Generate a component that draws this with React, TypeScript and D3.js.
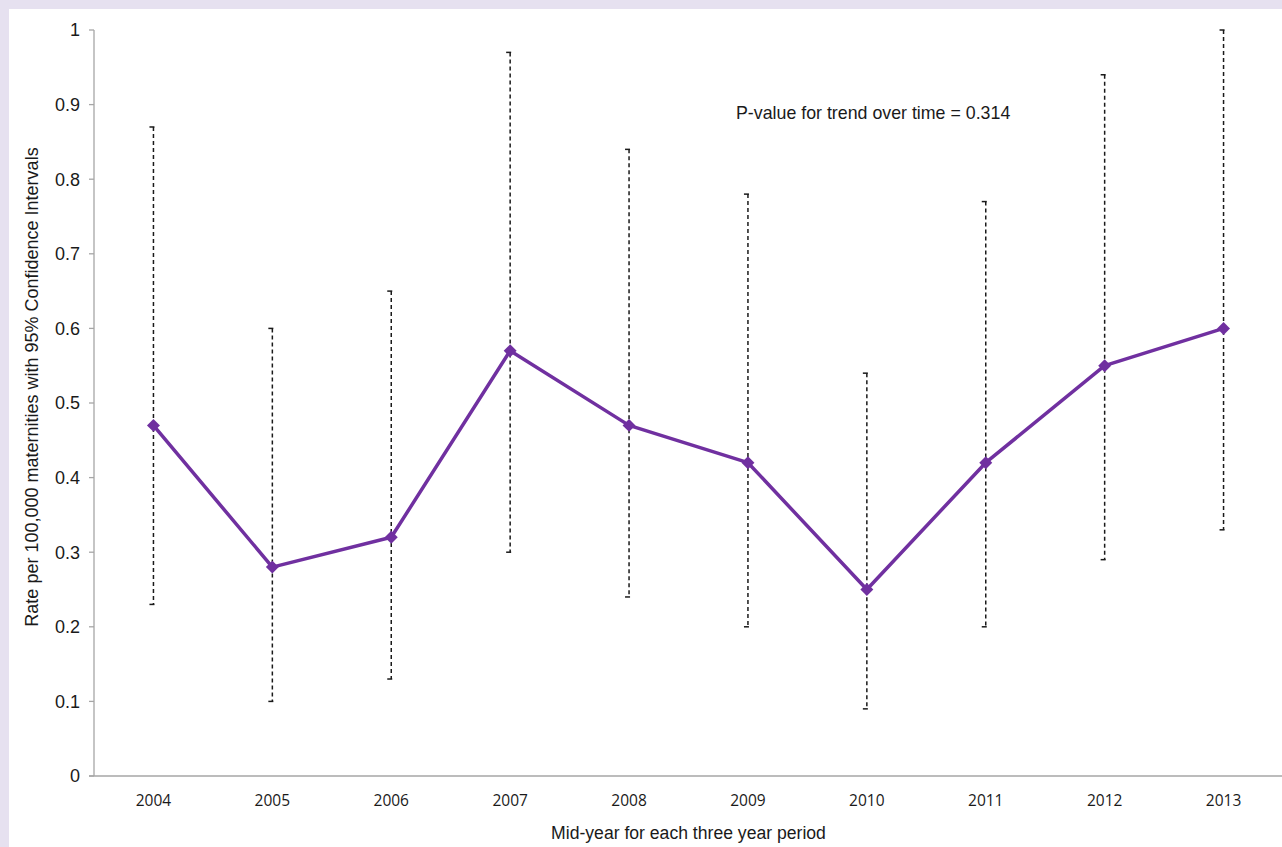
import React from "react";
import * as d3 from "d3";

const years = ["2004", "2005", "2006", "2007", "2008", "2009", "2010", "2011", "2012", "2013"];
const rates = [0.47, 0.28, 0.32, 0.57, 0.47, 0.42, 0.25, 0.42, 0.55, 0.6];
const lowerCI = [0.23, 0.1, 0.13, 0.3, 0.24, 0.2, 0.09, 0.2, 0.29, 0.33];
const upperCI = [0.87, 0.6, 0.65, 0.97, 0.84, 0.78, 0.54, 0.77, 0.94, 1.0];
const yTicks = [0, 0.1, 0.2, 0.3, 0.4, 0.5, 0.6, 0.7, 0.8, 0.9, 1];
const yTickLabels = ["0", "0.1", "0.2", "0.3", "0.4", "0.5", "0.6", "0.7", "0.8", "0.9", "1"];

const W = 1282;
const H = 847;
const left = 94;
const right = 1283;
const top = 30;
const bottom = 776;

const purple = "#7030a0";
const axisGrey = "#a6a6a6";
const arial = "'Liberation Sans', Arial, sans-serif";

export default function App() {
  const x = d3.scaleBand<string>().domain(years).range([left, right]);
  const cx = (y: string) => (x(y) ?? 0) + x.bandwidth() / 2;
  const y = d3.scaleLinear().domain([0, 1]).range([bottom, top]);

  const line = d3
    .line<number>()
    .x((_, i) => cx(years[i]))
    .y((d) => y(d));

  // square rotated 45° gives an even diamond marker
  const marker = d3.symbol(d3.symbolSquare, 84)();

  return (
    <svg
      width={W}
      height={H}
      style={{ position: "absolute", left: 0, top: 0, display: "block" }}
    >
      <rect x={0} y={0} width={W} height={H} fill="#e6e1f0" />
      <rect x={9} y={9} width={W - 9} height={H - 9} fill="#ffffff" />

      {/* y axis */}
      <line x1={left} x2={left} y1={top} y2={bottom} stroke={axisGrey} strokeWidth={1.3} />
      {yTicks.map((t, i) => (
        <g key={t}>
          <line x1={left - 5} x2={left} y1={y(t)} y2={y(t)} stroke={axisGrey} strokeWidth={1.3} />
          <text
            x={left - 14}
            y={y(t)}
            dy="0.35em"
            textAnchor="end"
            fontFamily={arial}
            fontSize={18}
            fill="#1a1a1a"
          >
            {yTickLabels[i]}
          </text>
        </g>
      ))}

      {/* x axis */}
      <line x1={left - 5} x2={right} y1={bottom} y2={bottom} stroke={axisGrey} strokeWidth={1.3} />
      {years.map((yr) => (
        <text
          key={yr}
          x={cx(yr)}
          y={806}
          textAnchor="middle"
          fontFamily="'Open Sans', 'Noto Sans', sans-serif"
          fontSize={15.5}
          fill="#1a1a1a"
        >
          {yr}
        </text>
      ))}

      {/* confidence intervals */}
      {years.map((yr, i) => {
        const px = cx(yr);
        return (
          <g key={"ci" + yr} stroke="#1a1a1a" strokeWidth={1.5}>
            <line
              x1={px}
              x2={px}
              y1={y(upperCI[i])}
              y2={y(lowerCI[i])}
              strokeDasharray="4,3"
            />
            <line x1={px - 4} x2={px + 1} y1={y(upperCI[i])} y2={y(upperCI[i])} />
            <line x1={px - 4} x2={px + 1} y1={y(lowerCI[i])} y2={y(lowerCI[i])} />
          </g>
        );
      })}

      {/* rate series */}
      <path d={line(rates) ?? ""} fill="none" stroke={purple} strokeWidth={3.5} strokeLinejoin="round" />
      {years.map((yr, i) => (
        <path
          key={"m" + yr}
          d={marker ?? ""}
          transform={`translate(${cx(yr)},${y(rates[i])}) rotate(45)`}
          fill={purple}
        />
      ))}

      <text x={736} y={119} fontFamily={arial} fontSize={17.8} fill="#1a1a1a">
        P-value for trend over time = 0.314
      </text>

      <text
        x={(left + right) / 2}
        y={839}
        textAnchor="middle"
        fontFamily={arial}
        fontSize={17.6}
        fill="#1a1a1a"
      >
        Mid-year for each three year period
      </text>

      <text
        transform={`translate(38,387) rotate(-90)`}
        textAnchor="middle"
        fontFamily={arial}
        fontSize={18}
        fill="#1a1a1a"
      >
        Rate per 100,000 maternities with 95% Confidence Intervals
      </text>
    </svg>
  );
}
